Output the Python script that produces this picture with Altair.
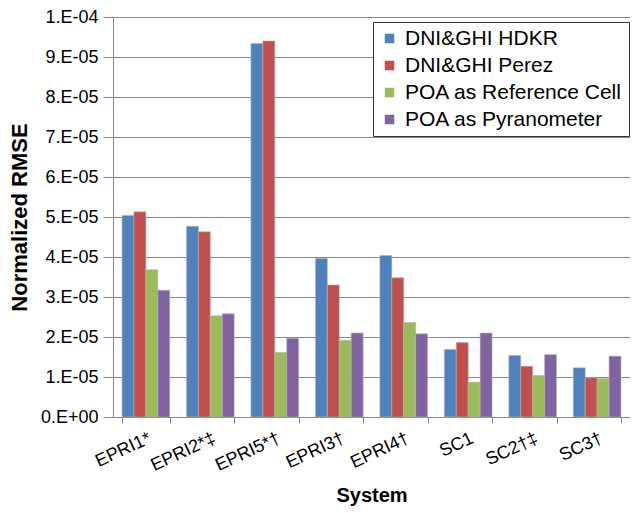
import altair as alt
import pandas as pd

systems = ["EPRI1*", "EPRI2*‡", "EPRI5*†", "EPRI3†", "EPRI4†", "SC1", "SC2†‡", "SC3†"]
series = ["DNI&GHI HDKR", "DNI&GHI Perez", "POA as Reference Cell", "POA as Pyranometer"]
colors = ["#4F81BD", "#C0504D", "#9BBB59", "#8064A2"]

hdkr = [5.04e-5, 4.77e-5, 9.34e-5, 3.96e-5, 4.04e-5, 1.69e-5, 1.54e-5, 1.23e-5]
perez = [5.13e-5, 4.63e-5, 9.40e-5, 3.30e-5, 3.48e-5, 1.86e-5, 1.27e-5, 0.98e-5]
refcell = [3.68e-5, 2.53e-5, 1.61e-5, 1.92e-5, 2.36e-5, 0.87e-5, 1.04e-5, 0.96e-5]
pyrano = [3.17e-5, 2.58e-5, 1.97e-5, 2.10e-5, 2.08e-5, 2.10e-5, 1.56e-5, 1.52e-5]

y_ticks = [i * 1e-5 for i in range(11)]
y_labels = ["0.E+00", "1.E-05", "2.E-05", "3.E-05", "4.E-05", "5.E-05",
            "6.E-05", "7.E-05", "8.E-05", "9.E-05", "1.E-04"]

rows = []
for s, vals in zip(series, [hdkr, perez, refcell, pyrano]):
    for sysname, v in zip(systems, vals):
        rows.append({"System": sysname, "Series": s, "Value": v})
df = pd.DataFrame(rows)

label_expr = "{" + ",".join(
    f"'{round(t * 1e5)}':'{l}'" for t, l in zip(y_ticks, y_labels)
) + "}[format(datum.value*1e5,'.0f')]"

FONT = "Liberation Sans"
GRID = "#868686"

chart = alt.Chart(df).mark_bar(stroke="#b3b3b3", strokeWidth=0.6).encode(
    x=alt.X("System:N", sort=systems,
            scale=alt.Scale(paddingInner=0.26, paddingOuter=0.14),
            axis=alt.Axis(title="System", labelAngle=-25, labelAlign="right",
                          labelBaseline="top", labelPadding=6,
                          labelFontSize=18, labelFont=FONT, labelColor="black",
                          titleFont=FONT, titleFontSize=20, titleFontWeight="bold",
                          titleColor="black", titlePadding=11,
                          tickBand="extent", tickSize=6, tickColor=GRID,
                          domainColor=GRID, grid=False)),
    xOffset=alt.XOffset("Series:N", sort=series, scale=alt.Scale(paddingInner=0)),
    y=alt.Y("Value:Q", scale=alt.Scale(domain=[0, 1e-4], nice=False),
            axis=alt.Axis(title="Normalized RMSE", values=y_ticks,
                          labelExpr=label_expr, labelFontSize=18, labelFont=FONT,
                          labelColor="black", labelPadding=5,
                          titleFont=FONT, titleFontSize=22, titleFontWeight="bold",
                          titleColor="black", titlePadding=9,
                          tickSize=10, tickColor=GRID, domainColor=GRID,
                          gridColor=GRID, gridWidth=1)),
    color=alt.Color("Series:N", sort=series,
                    scale=alt.Scale(domain=series, range=colors),
                    legend=alt.Legend(title=None, orient="none", legendX=260, legendY=5,
                                      fillColor="white", strokeColor="#333333",
                                      padding=6, symbolType="square", symbolSize=90,
                                      symbolStrokeWidth=0, labelFontSize=21,
                                      labelFont=FONT, labelColor="black",
                                      labelOffset=5, rowPadding=5,
                                      labelLimit=400)),
).properties(
    width=517, height=400,
    autosize=alt.AutoSizeParams(type="none"),
    padding={"left": 105, "top": 9, "right": 0, "bottom": 90},
).configure_view(stroke=None).configure(background="white")

chart.save("out.html", embed_options={"renderer": "svg", "actions": False})
